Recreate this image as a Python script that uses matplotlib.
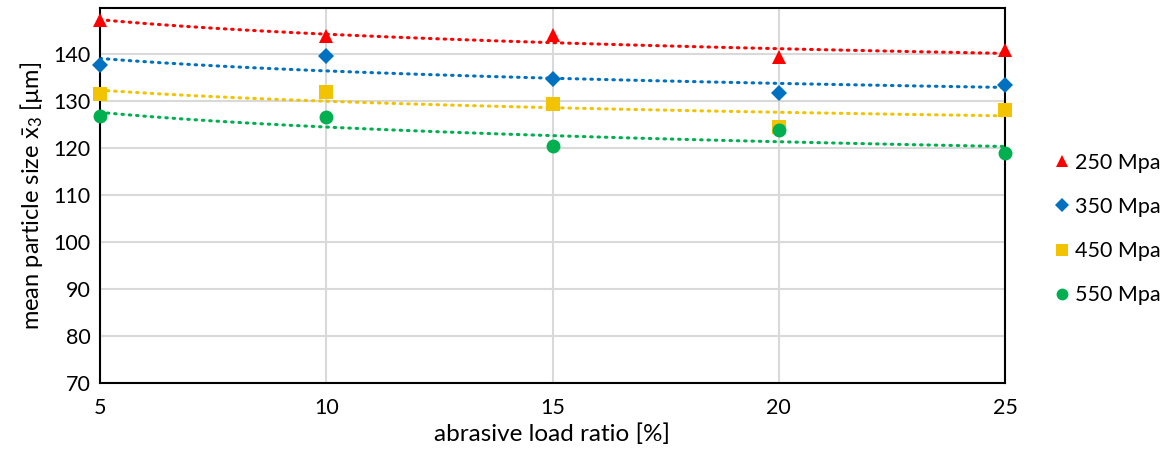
import numpy as np
import matplotlib
matplotlib.use("Agg")
import matplotlib.pyplot as plt
from matplotlib.lines import Line2D

plt.rcParams['font.family'] = ['Lato', 'DejaVu Sans']
plt.rcParams['mathtext.fontset'] = 'custom'
plt.rcParams['mathtext.rm'] = 'Lato'
plt.rcParams['mathtext.it'] = 'Lato'

load_ratio = [5, 10, 15, 20, 25]
series_labels = ['250 Mpa', '350 Mpa', '450 Mpa', '550 Mpa']
vals_250 = [147.4, 143.9, 144.1, 139.4, 140.9]
vals_350 = [137.7, 139.7, 134.7, 131.7, 133.6]
vals_450 = [131.5, 131.9, 129.5, 124.6, 128.2]
vals_550 = [126.8, 126.7, 120.5, 123.8, 118.9]
yticks = [70, 80, 90, 100, 110, 120, 130, 140]
xticks = [5, 10, 15, 20, 25]

colors = ['#FF0000', '#0070C0', '#F2C300', '#00B050']
markers = ['^', 'D', 's', 'o']
msizes = [10, 8.5, 10, 10]

fig = plt.figure(figsize=(11.7, 4.62), dpi=100)
ax = fig.add_axes([100/1170, 1-383/462, 905/1170, 375/462])

x = np.array(load_ratio, dtype=float)
xf = np.linspace(5, 25, 200)
for vals, c, m, ms, lab in zip([vals_250, vals_350, vals_450, vals_550], colors, markers, msizes, series_labels):
    y = np.array(vals)
    b, a = np.polyfit(np.log(x), y, 1)
    ax.plot(xf, a + b*np.log(xf), color=c, lw=2.2, linestyle=(0, (0.5, 1.9)), dash_capstyle='round', zorder=2)
    ax.plot(x, y, linestyle='none', marker=m, color=c, markersize=ms, markeredgewidth=0, zorder=3, clip_on=False, label=lab)

ax.set_xlim(5, 25)
ax.set_ylim(70, 149.9)
ax.set_xticks(xticks)
ax.set_yticks(yticks)
ax.grid(True, color='#D9D9D9', lw=1.5)
ax.set_axisbelow(True)
for s in ax.spines.values():
    s.set_linewidth(1.5)
    s.set_color('black')
ax.tick_params(length=0, labelsize=15.5, pad=11)
ax.tick_params(axis='y', pad=7)
ax.set_xlabel('abrasive load ratio [%]', fontsize=17.5, labelpad=4)
ax.set_ylabel(r'mean particle size $\bar{\mathrm{x}}_{\mathrm{3}}$ [µm]', fontsize=17, labelpad=6)

handles = [Line2D([], [], linestyle='none', marker=m, color=c, markersize=ms*0.85, markeredgewidth=0)
           for c, m, ms in zip(colors, markers, msizes)]
fig.legend(handles, series_labels, loc='center left', bbox_to_anchor=(1030/1170, 1-229/462),
           frameon=False, fontsize=15.5, handletextpad=0.0, labelspacing=1.13, handlelength=1.2)

fig.savefig('out.png', dpi=100)
